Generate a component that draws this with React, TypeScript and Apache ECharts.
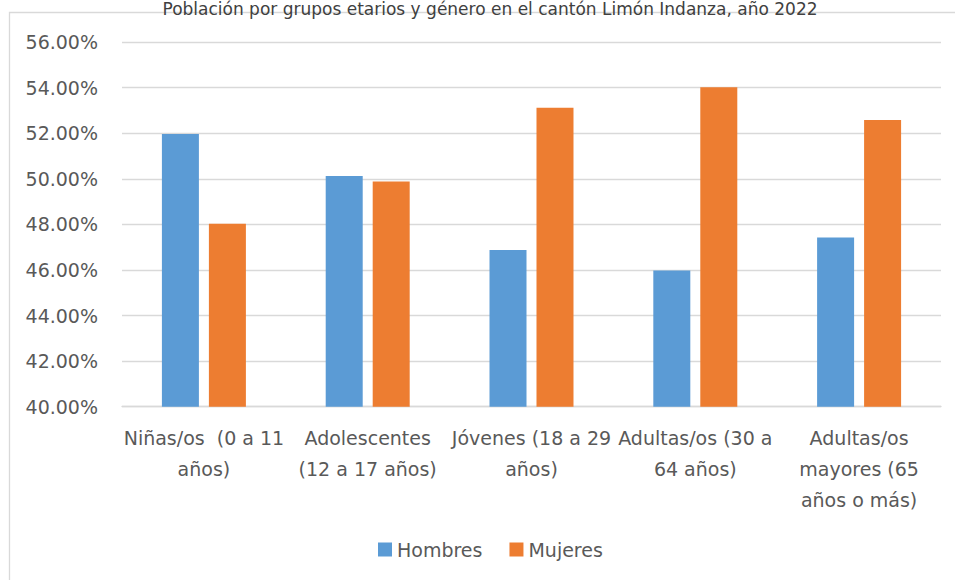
import React, { useEffect, useRef } from "react";
import * as echarts from "echarts";

const categories = [
  "Niñas/os  (0 a 11\naños)",
  "Adolescentes\n(12 a 17 años)",
  "Jóvenes (18 a 29\naños)",
  "Adultas/os (30 a\n64 años)",
  "Adultas/os\nmayores (65\naños o más)",
];
const hombres = [51.97, 50.12, 46.88, 45.98, 47.42];
const mujeres = [48.03, 49.88, 53.12, 54.02, 52.58];
const yMin = 40;
const yMax = 56;
const yStep = 2;
const titleText =
  "Población por grupos etarios y género en el cantón Limón Indanza, año 2022";

const FONT = "DejaVu Sans";

export default function App() {
  const ref = useRef<HTMLDivElement>(null);
  useEffect(() => {
    if (!ref.current) return;
    const chart = echarts.init(ref.current, undefined, { renderer: "svg" });
    chart.setOption({
      animation: false,
      backgroundColor: "#ffffff",
      textStyle: { fontFamily: FONT },
      graphic: [
        {
          type: "rect",
          shape: { x: 9.5, y: 12.5, width: 960, height: 600 },
          style: { fill: "none", stroke: "#d9d9d9", lineWidth: 1.3 },
          z: 0,
        },
        {
          type: "text",
          x: 490,
          y: 9,
          z: 10,
          style: {
            text: titleText,
            fontFamily: FONT,
            fontSize: 17,
            fill: "#404040",
            align: "center",
            verticalAlign: "middle",
          },
        },
      ],
      grid: { left: 122, right: 14, top: 42.1, bottom: 173.3, containLabel: false },
      xAxis: {
        type: "category",
        data: categories,
        axisLine: { lineStyle: { color: "#d9d9d9", width: 1.3 } },
        axisTick: { show: false },
        axisLabel: {
          interval: 0,
          color: "#595959",
          fontFamily: FONT,
          fontSize: 19,
          lineHeight: 31,
          margin: 16,
          align: "center",
        },
      },
      yAxis: {
        type: "value",
        min: yMin,
        max: yMax,
        interval: yStep,
        axisLine: { show: false },
        axisTick: { show: false },
        splitLine: { lineStyle: { color: "#d9d9d9", width: 1.3 } },
        axisLabel: {
          color: "#595959",
          fontFamily: FONT,
          fontSize: 19,
          margin: 24,
          formatter: (v: number) => v.toFixed(2) + "%",
        },
      },
      legend: {
        data: ["Hombres", "Mujeres"],
        left: 373,
        top: 535,
        itemWidth: 14,
        itemHeight: 14,
        itemGap: 27,
        icon: "rect",
        textStyle: { color: "#595959", fontFamily: FONT, fontSize: 19 },
      },
      series: [
        {
          name: "Hombres",
          type: "bar",
          data: hombres,
          barWidth: 37,
          barGap: "27%",
          itemStyle: { color: "#5b9bd5" },
        },
        {
          name: "Mujeres",
          type: "bar",
          data: mujeres,
          barWidth: 37,
          barGap: "27%",
          itemStyle: { color: "#ed7d31" },
        },
      ],
    });
    return () => chart.dispose();
  }, []);
  return (
    <div
      ref={ref}
      style={{ position: "absolute", left: 0, top: 0, width: 955, height: 580 }}
    />
  );
}
